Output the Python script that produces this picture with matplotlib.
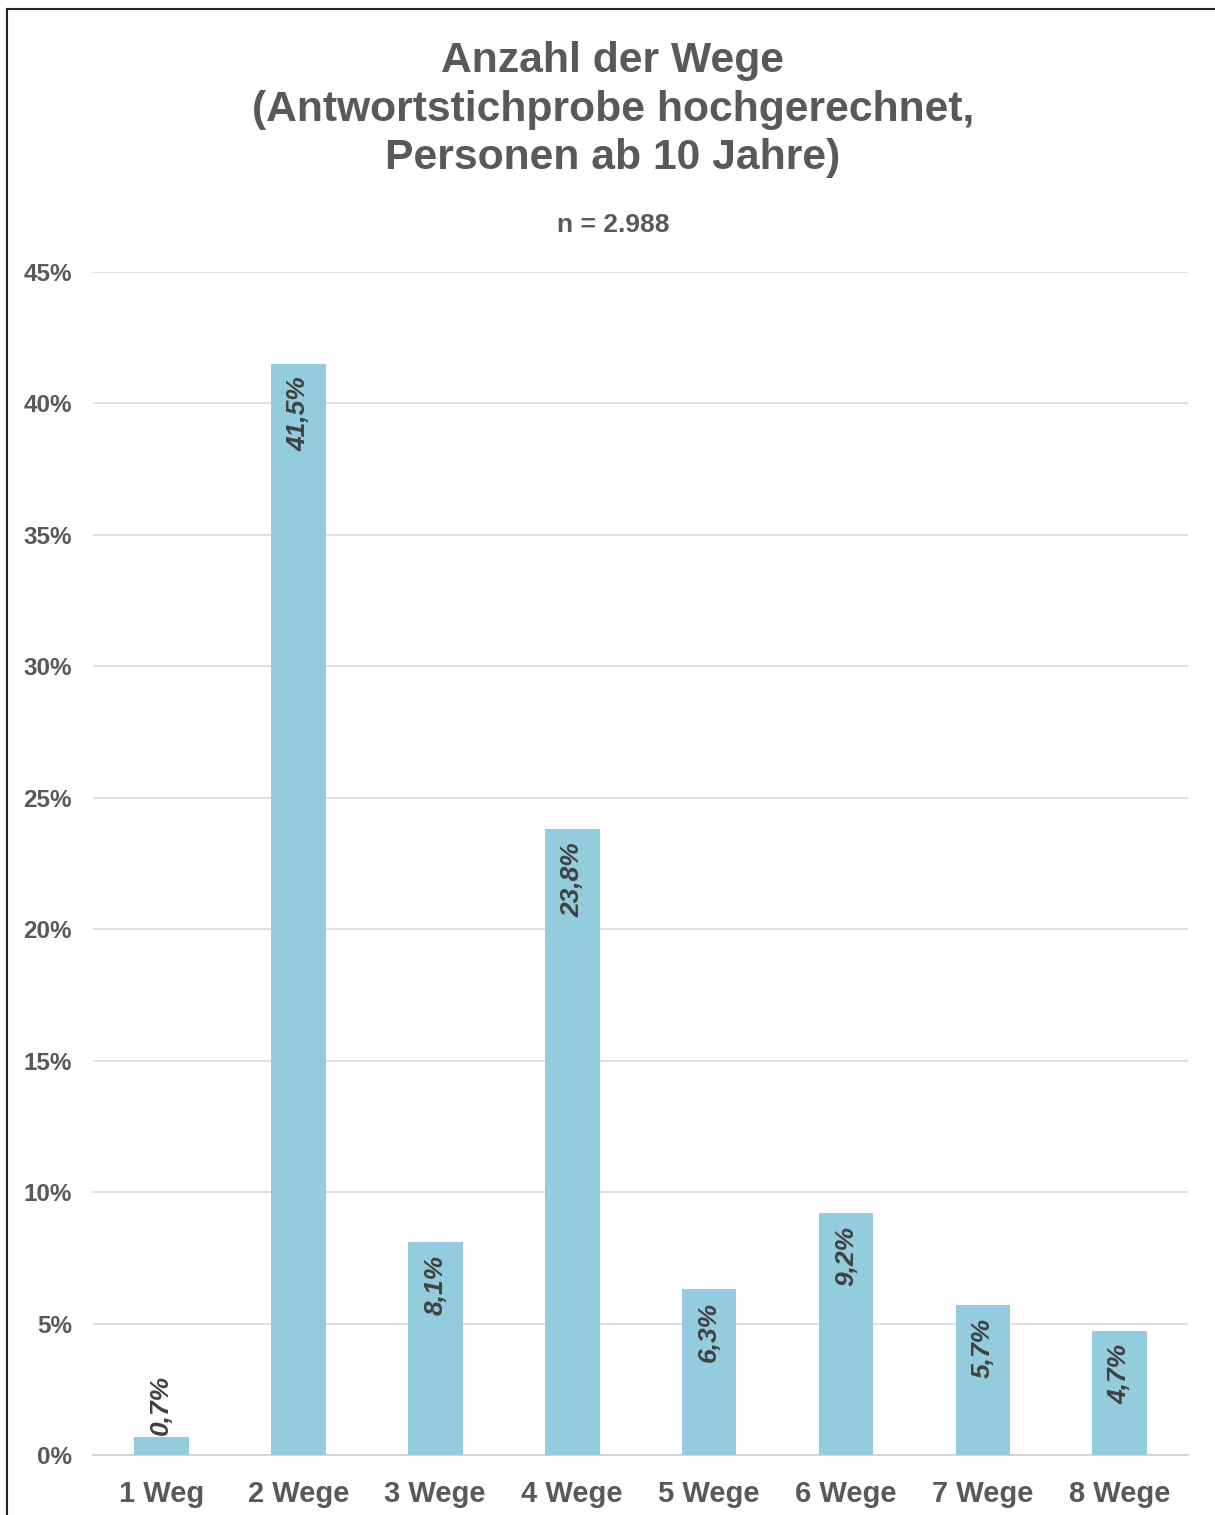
import matplotlib.pyplot as plt
from matplotlib.lines import Line2D

categories = ["1 Weg", "2 Wege", "3 Wege", "4 Wege", "5 Wege", "6 Wege", "7 Wege", "8 Wege"]
shares = [0.7, 41.5, 8.1, 23.8, 6.3, 9.2, 5.7, 4.7]
yticks = [0, 5, 10, 15, 20, 25, 30, 35, 40, 45]

text_col = "#595959"
bar_col = "#92CCDD"

plt.rcParams["font.family"] = ["Liberation Sans", "DejaVu Sans"]

fig = plt.figure(figsize=(12.15, 15.15), dpi=100)
ax = fig.add_axes([0.0765, 0.0396, 0.9015, 0.7809])

x = list(range(len(categories)))
bars = ax.bar(x, shares, width=0.4, color=bar_col, zorder=3)

for xi, v in zip(x, shares):
    lbl = f"{v:.1f}%".replace(".", ",")
    if v < 2:
        ax.annotate(lbl, (xi, v), xytext=(0, 1),
                    textcoords="offset points", rotation=90, ha="center", va="bottom",
                    fontsize=19, fontweight="bold", fontstyle="italic", color="#404040")
    else:
        ax.annotate(lbl, (xi, v), xytext=(0, -9),
                    textcoords="offset points", rotation=90, ha="center", va="top",
                    fontsize=19, fontweight="bold", fontstyle="italic", color="#404040")

ax.set_xlim(-0.5, len(categories) - 0.5)
ax.set_ylim(0, 45)
ax.set_yticks(yticks)
ax.set_yticklabels([f"{t}%" for t in yticks], fontsize=17.5, fontweight="bold", color=text_col)
ax.set_xticks(x)
ax.set_xticklabels(categories, fontsize=21, fontweight="bold", color=text_col)
ax.tick_params(axis="both", length=0)
ax.tick_params(axis="y", pad=15)
ax.tick_params(axis="x", pad=18)
ax.grid(axis="y", color="#d9d9d9", linewidth=1.2, zorder=0)
for s in ["top", "right", "left"]:
    ax.spines[s].set_visible(False)
ax.spines["bottom"].set_color("#d0d0d0")
ax.spines["bottom"].set_linewidth(1.2)

fig.text(0.5045, 0.9728, "Anzahl der Wege\n(Antwortstichprobe hochgerechnet,\nPersonen ab 10 Jahre)",
         ha="center", va="top", fontsize=30.7, fontweight="bold", color=text_col, linespacing=1.27)
fig.text(0.5045, 0.8515, "n = 2.988", ha="center", va="center", fontsize=19,
         fontweight="bold", color=text_col)

# frame lines along the top and left edge
fig.add_artist(Line2D([0.0058, 1.0], [0.9941, 0.9941], color="#222222", linewidth=1.5))
fig.add_artist(Line2D([0.0058, 0.0058], [0.0, 0.9941], color="#222222", linewidth=1.5))

fig.savefig("out.png", dpi=100)
